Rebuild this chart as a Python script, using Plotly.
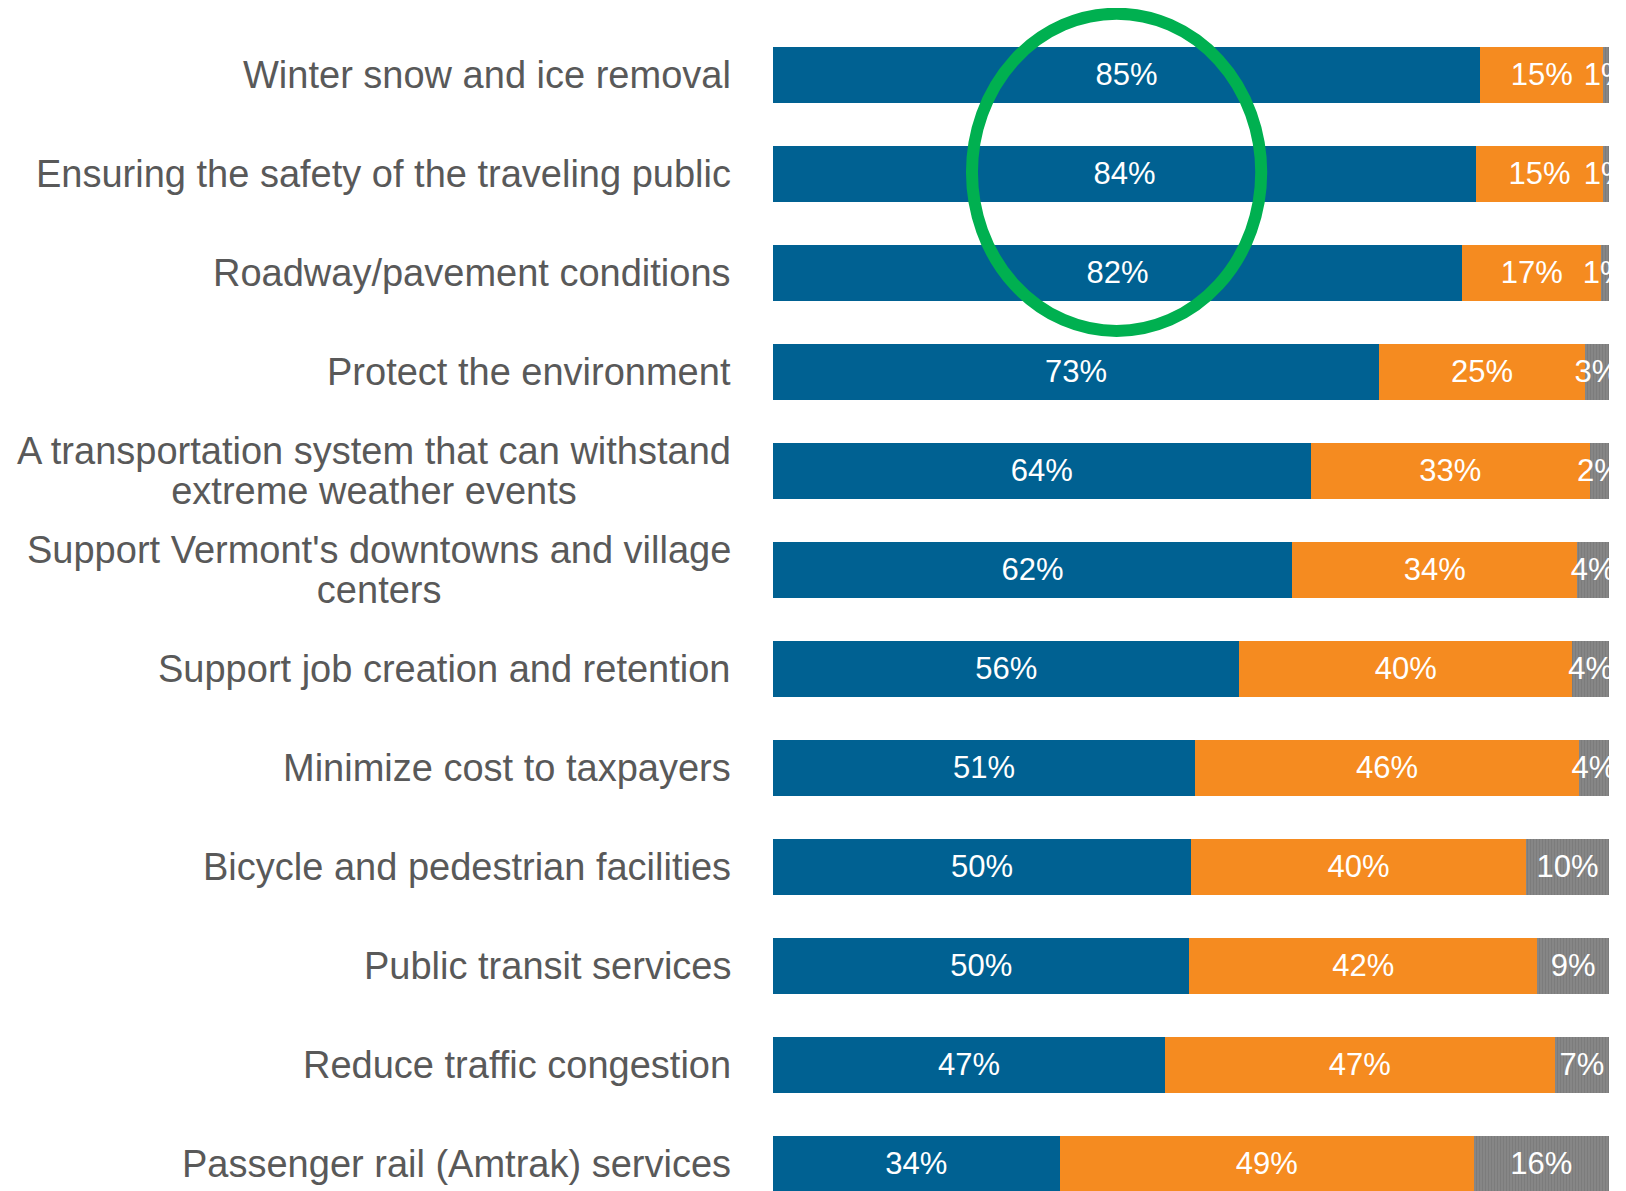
import plotly.graph_objects as go

categories = [
    "Winter snow and ice removal",
    "Ensuring the safety of the traveling public",
    "Roadway/pavement conditions",
    "Protect the environment",
    "A transportation system that can withstand<br>extreme weather events",
    "Support Vermont's downtowns and village<br>centers",
    "Support job creation and retention",
    "Minimize cost to taxpayers",
    "Bicycle and pedestrian facilities",
    "Public transit services",
    "Reduce traffic congestion",
    "Passenger rail (Amtrak) services",
]

# bar lengths (share of respondents, %)
blue_vals = [84.6, 84.1, 82.4, 72.5, 64.3, 62.1, 55.8, 50.5, 50.0, 49.8, 46.9, 34.3]
orange_vals = [14.7, 15.2, 16.7, 24.6, 33.4, 34.1, 39.8, 45.9, 40.1, 41.6, 46.6, 49.5]
gray_vals = [0.7, 0.7, 0.9, 2.9, 2.3, 3.8, 4.4, 3.6, 9.9, 8.6, 6.5, 16.2]

# printed data labels
blue_labels = [85, 84, 82, 73, 64, 62, 56, 51, 50, 50, 47, 34]
orange_labels = [15, 15, 17, 25, 33, 34, 40, 46, 40, 42, 47, 49]
gray_labels = [1, 1, 1, 3, 2, 4, 4, 4, 10, 9, 7, 16]

BLUE = "#006192"
ORANGE = "#F58B20"
GRAY = "#7F7F7F"
LABEL_FONT = "Liberation Sans, Arial, sans-serif"

fig = go.Figure()

common = dict(
    orientation="h",
    y=categories,
    width=0.566,
    textposition="inside",
    insidetextanchor="middle",
    textangle=0,
    textfont=dict(family=LABEL_FONT, size=31, color="#FFFFFF"),
    cliponaxis=True,
    hoverinfo="skip",
)

fig.add_trace(go.Bar(x=blue_vals, text=[f"{v}%" for v in blue_labels],
                     marker=dict(color=BLUE, line=dict(width=0)), **common))
fig.add_trace(go.Bar(x=orange_vals, text=[f"{v}%" for v in orange_labels],
                     marker=dict(color=ORANGE, line=dict(width=0)), **common))
fig.add_trace(go.Bar(x=gray_vals, text=[f"{v}%" for v in gray_labels],
                     marker=dict(color=GRAY, line=dict(width=0),
                                 pattern=dict(shape="|", size=3, solidity=0.3,
                                              fgcolor="#6E6E6E", bgcolor="#868686")),
                     **common))

# category labels (centered multi-line text, right-aligned block)
for cat in categories:
    styled = "<br>".join(f"<span style='font-size:38px'>{line}</span>" for line in cat.split("<br>"))
    fig.add_annotation(
        x=0, y=cat, xref="x", yref="y",
        text=styled, showarrow=False,
        xanchor="right", yanchor="middle", align="center",
        xshift=-40,
        font=dict(family=LABEL_FONT, size=31, color="#595959"),
    )

# green highlight ellipse around the top three rows
fig.add_shape(
    type="circle", xref="x", yref="y",
    x0=23.8, x1=58.4, y0=-0.616, y1=2.589,
    line=dict(color="#00B050", width=12),
    fillcolor="rgba(0,0,0,0)", layer="above",
)

fig.update_layout(
    width=1618, height=1183,
    barmode="stack",
    showlegend=False,
    plot_bgcolor="white",
    paper_bgcolor="white",
    margin=dict(l=765, r=17, t=0, b=0),
    uniformtext=dict(minsize=31, mode="show"),
    xaxis=dict(range=[0, 100], visible=False, showgrid=False, zeroline=False, fixedrange=True),
    yaxis=dict(type="category", range=[11.276, -0.6737], showticklabels=False,
               showgrid=False, zeroline=False, showline=False, ticks="", fixedrange=True),
)

fig.write_html("out.html")
